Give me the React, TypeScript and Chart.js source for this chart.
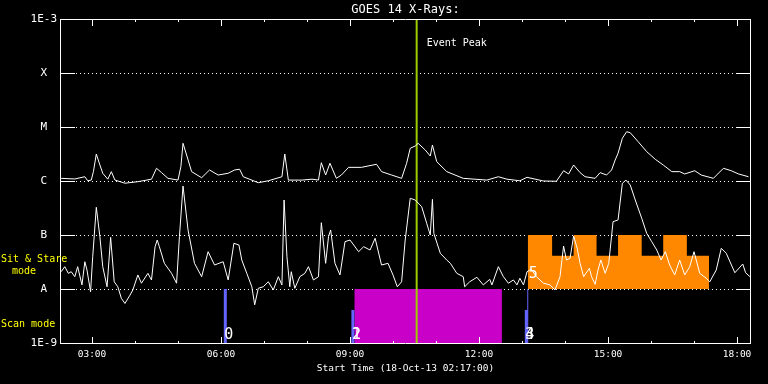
import React, { useEffect, useRef } from 'react';
import Chart from 'chart.js/auto';

const FONT = '"DejaVu Sans Mono", monospace';

// Times: minutes after 00:00 UT on 18-Oct-13
const longTimes = [
  137, 156, 170, 174, 179, 182, 186, 191, 195, 202,
  207, 212, 226, 244, 263, 270, 277, 286, 300, 304,
  307, 312, 319, 333, 344, 356, 370, 379, 386, 391,
  412, 426, 445, 449, 454, 473, 487, 496, 500, 506,
  512, 521, 528, 538, 556, 577, 584, 598, 612, 619,
  624, 631, 635, 645, 652, 655, 661, 675, 698, 731,
  747, 759, 777, 787, 810, 828, 838, 845, 852, 861,
  868, 882, 889, 898, 905, 910, 914, 920, 926, 931,
  942, 954, 966, 977, 989, 1000, 1007, 1021, 1030, 1047,
  1061, 1072, 1082, 1096,
];
// 1-8 A channel flux, W/m^2
const longFlux = [
  1.12e-6, 1.09e-6, 1.2e-6, 1.01e-6, 1.04e-6, 1.49e-6, 3.16e-6, 1.98e-6, 1.39e-6, 1.08e-6,
  1.49e-6, 1.04e-6, 0.91e-6, 0.97e-6, 1.08e-6, 1.72e-6, 1.43e-6, 1.12e-6, 1.04e-6, 1.84e-6,
  4.99e-6, 3.03e-6, 1.49e-6, 1.15e-6, 1.6e-6, 1.29e-6, 1.39e-6, 1.6e-6, 1.65e-6, 1.2e-6,
  0.93e-6, 1.01e-6, 1.2e-6, 3.16e-6, 1.04e-6, 1.04e-6, 1.08e-6, 1.04e-6, 2.18e-6, 1.29e-6,
  2.13e-6, 1.12e-6, 1.29e-6, 1.79e-6, 1.79e-6, 2.04e-6, 1.49e-6, 1.29e-6, 1.12e-6, 2.13e-6,
  4.03e-6, 4.45e-6, 4.99e-6, 3.75e-6, 2.9e-6, 4.64e-6, 2.28e-6, 1.49e-6, 1.12e-6, 1.04e-6,
  1.2e-6, 1.08e-6, 1.01e-6, 1.17e-6, 1.0e-6, 0.99e-6, 1.55e-6, 1.35e-6, 1.98e-6, 1.43e-6,
  1.2e-6, 1.12e-6, 1.43e-6, 1.29e-6, 1.6e-6, 2.45e-6, 3.26e-6, 6.18e-6, 8.18e-6, 7.84e-6,
  5.35e-6, 3.49e-6, 2.52e-6, 1.98e-6, 1.49e-6, 1.49e-6, 1.35e-6, 1.55e-6, 1.29e-6, 1.12e-6,
  1.72e-6, 1.55e-6, 1.35e-6, 1.2e-6,
];

const shortTimes = [
  137, 142, 147, 151, 156, 160, 166, 170, 173, 178,
  181, 186, 191, 195, 201, 206, 211, 216, 221, 226,
  233, 237, 244, 249, 258, 263, 268, 271, 274, 281,
  291, 298, 302, 307, 314, 323, 333, 342, 351, 363,
  370, 378, 385, 389, 396, 403, 407, 412, 419, 426,
  433, 440, 445, 448, 452, 456, 458, 463, 470, 477,
  482, 489, 496, 500, 506, 510, 513, 519, 526, 533,
  540, 552, 559, 568, 575, 584, 593, 600, 606, 612,
  617, 624, 631, 640, 647, 652, 655, 657, 666, 675,
  680, 689, 698, 700, 707, 717, 726, 735, 738, 747,
  754, 761, 768, 773, 777, 782, 787, 793, 800, 810,
  819, 826, 833, 838, 842, 847, 852, 857, 861, 866,
  874, 877, 882, 886, 890, 896, 901, 907, 914, 920,
  925, 931, 938, 947, 954, 961, 968, 974, 980, 986,
  993, 1000, 1007, 1014, 1020, 1028, 1037, 1042, 1051, 1058,
  1065, 1077, 1088, 1092, 1098,
];
// 0.5-4 A channel flux, W/m^2
const shortFlux = [
  2.09e-8, 2.59e-8, 1.95e-8, 2.09e-8, 1.69e-8, 2.59e-8, 1.19e-8, 3.2e-8, 2.25e-8, 0.89e-8,
  3.96e-8, 3.26e-7, 9.3e-8, 2.59e-8, 1.1e-8, 9.06e-8, 1.36e-8, 1.1e-8, 0.67e-8, 0.54e-8,
  0.77e-8, 0.96e-8, 1.82e-8, 1.28e-8, 1.95e-8, 1.47e-8, 6.07e-8, 8.07e-8, 6.07e-8, 2.99e-8,
  1.95e-8, 1.28e-8, 9.3e-8, 8.07e-7, 1.24e-7, 2.99e-8, 1.69e-8, 4.91e-8, 2.78e-8, 3.2e-8,
  1.47e-8, 7.02e-8, 6.53e-8, 3.44e-8, 1.95e-8, 1.1e-8, 0.51e-8, 1.03e-8, 1.1e-8, 1.36e-8,
  0.96e-8, 1.69e-8, 1.19e-8, 4.45e-7, 3.96e-8, 1.1e-8, 2.09e-8, 1.03e-8, 1.69e-8, 1.95e-8,
  2.59e-8, 1.47e-8, 1.69e-8, 1.69e-7, 2.99e-8, 9.3e-8, 1.24e-7, 2.99e-8, 1.82e-8, 7.52e-8,
  8.07e-8, 4.91e-8, 6.07e-8, 5.27e-8, 8.69e-8, 2.78e-8, 2.99e-8, 1.82e-8, 1.1e-8, 1.36e-8,
  8.07e-8, 4.78e-7, 4.45e-7, 3.34e-7, 1.65e-7, 1.0e-7, 4.58e-7, 1.07e-7, 4.58e-8, 3.44e-8,
  2.99e-8, 1.95e-8, 1.69e-8, 1.1e-8, 1.36e-8, 1.65e-8, 1.19e-8, 1.51e-8, 1.19e-8, 2.59e-8,
  1.69e-8, 1.28e-8, 1.47e-8, 1.19e-8, 1.58e-8, 1.19e-8, 2.09e-8, 2.32e-8, 1.69e-8, 1.28e-8,
  1.19e-8, 0.96e-8, 1.69e-8, 6.25e-8, 3.44e-8, 3.7e-8, 9.58e-8, 5.67e-8, 2.99e-8, 1.69e-8,
  2.42e-8, 1.69e-8, 1.22e-8, 2.25e-8, 3.44e-8, 1.95e-8, 2.99e-8, 1.76e-7, 1.9e-7, 9.06e-7,
  1.04e-6, 8.43e-7, 4.45e-7, 2.04e-7, 1.07e-7, 7.52e-8, 5.27e-8, 3.44e-8, 4.91e-8, 2.78e-8,
  1.82e-8, 3.44e-8, 1.82e-8, 2.59e-8, 4.91e-8, 1.95e-8, 1.58e-8, 1.36e-8, 2.25e-8, 5.67e-8,
  4.58e-8, 2.0e-8, 2.9e-8, 2.0e-8, 1.69e-8,
];

const xMin = 135.35;
const xMax = 1099.5;
const xTickValues = [180, 360, 540, 720, 900, 1080];
const xTickLabels = ['03:00', '06:00', '09:00', '12:00', '15:00', '18:00'];
const xMinorTickValues = [240, 300, 420, 480, 600, 660, 780, 840, 960, 1020];

const yTickValues = [1e-9, 1e-8, 1e-7, 1e-6, 1e-5, 1e-4, 1e-3];
const yTickLabels = ['1E-9', 'A', 'B', 'C', 'M', 'X', '1E-3'];

const eventPeakTime = 633;
const eventPeakLabel = 'Event Peak';

// Scan-mode observations
const scanTimes = [366, 544, 544, 786, 786];
const scanTops = [1e-8, 4.1e-9, 4.1e-9, 4.1e-9, 4.1e-9];
const scanLabels = ['0', '1', '2', '3', '4'];
const scanLabelLevels = [1.17e-9, 1.17e-9, 1.17e-9, 1.17e-9, 1.17e-9];

// Sit & stare observation
const stareStartTimes = [788];
const stareStartTops = [1e-8];
const stareLabels = ['5'];
const stareLabelLevels = [1.6e-8];

// Scan-mode coverage block
const scanModeTimes = [546, 752];

// Sit & stare coverage steps
const stareEdges = [788, 822, 852, 884, 914, 947, 977, 1010, 1041];
const stareLevels = [1e-7, 4.14e-8, 1e-7, 4.14e-8, 1e-7, 4.14e-8, 1e-7, 4.14e-8, 4.14e-8];

const decor = {
  id: 'decor',
  beforeDatasetsDraw(chart: any) {
    const { ctx, chartArea: a, scales } = chart;
    const y = scales.y;
    ctx.save();
    ctx.strokeStyle = '#ffffff';
    ctx.lineWidth = 1;
    ctx.setLineDash([1, 3]);
    y.ticks.forEach((t: any, i: number) => {
      if (i === 0 || i === y.ticks.length - 1) return;
      const py = Math.round(y.getPixelForValue(t.value)) + 0.5;
      ctx.beginPath();
      ctx.moveTo(a.left, py);
      ctx.lineTo(a.right, py);
      ctx.stroke();
    });
    ctx.restore();
  },
  afterDatasetsDraw(chart: any) {
    const { ctx, chartArea: a, scales } = chart;
    const x = scales.x;
    const y = scales.y;
    ctx.save();
    ctx.strokeStyle = '#ffffff';
    ctx.lineWidth = 1;
    ctx.setLineDash([]);
    // frame
    ctx.beginPath();
    ctx.moveTo(a.left + 0.5, a.top + 0.5);
    ctx.lineTo(a.right - 0.5, a.top + 0.5);
    ctx.lineTo(a.right - 0.5, a.bottom + 0.5);
    ctx.lineTo(a.left + 0.5, a.bottom + 0.5);
    ctx.closePath();
    ctx.stroke();
    // y ticks (inward, both sides)
    y.ticks.forEach((t: any) => {
      const py = Math.round(y.getPixelForValue(t.value)) + 0.5;
      ctx.beginPath();
      ctx.moveTo(a.left, py);
      ctx.lineTo(a.left + 15, py);
      ctx.moveTo(a.right - 15, py);
      ctx.lineTo(a.right, py);
      ctx.stroke();
    });
    // x ticks (inward, top and bottom)
    const xt = (v: number, len: number) => {
      const px = Math.round(x.getPixelForValue(v)) + 0.5;
      ctx.beginPath();
      ctx.moveTo(px, a.top);
      ctx.lineTo(px, a.top + len);
      ctx.moveTo(px, a.bottom + 1);
      ctx.lineTo(px, a.bottom + 1 - len);
      ctx.stroke();
    };
    x.ticks.forEach((t: any) => xt(t.value, 7));
    xMinorTickValues.forEach((v) => xt(v, 3));

    // event peak label
    ctx.fillStyle = '#ffffff';
    ctx.font = `10px ${FONT}`;
    ctx.textAlign = 'left';
    ctx.textBaseline = 'middle';
    ctx.fillText(eventPeakLabel, x.getPixelForValue(eventPeakTime) + 10, a.top + 24);

    // scan number labels
    ctx.font = `15px ${FONT}`;
    ctx.textBaseline = 'alphabetic';
    scanTimes.forEach((t, i) => {
      ctx.fillText(scanLabels[i], x.getPixelForValue(t) - 1, y.getPixelForValue(scanLabelLevels[i]));
    });
    stareStartTimes.forEach((t, i) => {
      ctx.fillText(stareLabels[i], x.getPixelForValue(t) + 1, y.getPixelForValue(stareLabelLevels[i]));
    });

    // mode labels
    ctx.fillStyle = '#ffff00';
    ctx.font = `10px ${FONT}`;
    ctx.textBaseline = 'middle';
    ctx.fillText('Sit & Stare', 1, 259);
    ctx.fillText('mode', 12, 271);
    ctx.fillText('Scan mode', 1, 324);
    ctx.restore();
  },
};

export default function App() {
  const ref = useRef<HTMLCanvasElement | null>(null);

  useEffect(() => {
    if (!ref.current) return;
    const vbar = (times: number[], tops: number[]) =>
      times.flatMap((t, i) => [
        { x: t, y: 1e-9 },
        { x: t, y: tops[i] },
        { x: t, y: null },
      ]);
    const chart = new Chart(ref.current, {
      type: 'line',
      data: {
        datasets: [
          {
            label: 'long',
            data: longTimes.map((t, i) => ({ x: t, y: longFlux[i] })),
            borderColor: '#ffffff',
            borderWidth: 1,
            pointRadius: 0,
            tension: 0,
            fill: false,
          },
          {
            label: 'short',
            data: shortTimes.map((t, i) => ({ x: t, y: shortFlux[i] })),
            borderColor: '#ffffff',
            borderWidth: 1,
            pointRadius: 0,
            tension: 0,
            fill: false,
          },
          {
            label: 'event',
            data: [
              { x: eventPeakTime, y: 1e-9 },
              { x: eventPeakTime, y: 1e-3 },
            ],
            borderColor: '#9ccc00',
            borderWidth: 2,
            pointRadius: 0,
            fill: false,
          },
          {
            label: 'stareStart',
            data: vbar(stareStartTimes, stareStartTops) as any,
            borderColor: '#6464ff',
            borderWidth: 1,
            pointRadius: 0,
            spanGaps: false,
            fill: false,
          },
          {
            label: 'scans',
            data: vbar(scanTimes, scanTops) as any,
            borderColor: '#6464ff',
            borderWidth: 3,
            pointRadius: 0,
            spanGaps: false,
            fill: false,
          },
          {
            label: 'stare',
            data: stareEdges.map((t, i) => ({ x: t, y: stareLevels[i] })),
            stepped: 'before',
            borderColor: 'rgba(0,0,0,0)',
            borderWidth: 0,
            backgroundColor: '#ff8800',
            pointRadius: 0,
            fill: { value: 1e-8 },
          },
          {
            label: 'scanMode',
            data: scanModeTimes.map((t) => ({ x: t, y: 1e-8 })),
            borderColor: 'rgba(0,0,0,0)',
            borderWidth: 0,
            backgroundColor: '#c800c8',
            pointRadius: 0,
            fill: { value: 1e-9 },
          },
        ] as any,
      },
      options: {
        responsive: false,
        animation: false,
        devicePixelRatio: 1,
        layout: { padding: { left: 0, right: 17, top: 0, bottom: 0 } },
        plugins: {
          legend: { display: false },
          tooltip: { enabled: false },
          title: {
            display: true,
            text: 'GOES 14 X-Rays:',
            color: '#ffffff',
            font: { family: FONT, size: 12, lineHeight: 1, weight: 'normal' },
            padding: { top: 4, bottom: 3 },
            fullSize: false,
          },
        },
        scales: {
          x: {
            type: 'linear',
            min: xMin,
            max: xMax,
            afterBuildTicks: (s: any) => {
              s.ticks = xTickValues.map((v) => ({ value: v }));
            },
            afterFit: (s: any) => {
              s.height = 41;
            },
            ticks: {
              callback: (_v: any, i: number) => xTickLabels[i],
              color: '#ffffff',
              font: { family: FONT, size: 9.5 },
              padding: 6,
              maxRotation: 0,
              autoSkip: false,
            },
            grid: { display: false, drawTicks: false },
            border: { display: false },
            title: {
              display: true,
              text: 'Start Time (18-Oct-13 02:17:00)',
              color: '#ffffff',
              font: { family: FONT, size: 9.5 },
              padding: { top: 0, bottom: 10 },
            },
          },
          y: {
            type: 'logarithmic',
            min: 1e-9,
            max: 1e-3,
            afterBuildTicks: (s: any) => {
              s.ticks = yTickValues.map((v) => ({ value: v }));
            },
            afterFit: (s: any) => {
              s.width = 60;
            },
            ticks: {
              callback: (_v: any, i: number) => yTickLabels[i],
              color: '#ffffff',
              font: { family: FONT, size: 11 },
              padding: 3,
              crossAlign: 'center',
              autoSkip: false,
            },
            grid: { display: false, drawTicks: false },
            border: { display: false },
          },
        },
      } as any,
      plugins: [decor],
    });
    return () => chart.destroy();
  }, []);

  return (
    <div style={{ position: 'fixed', left: 0, top: 0, width: 768, height: 384, background: '#000000' }}>
      <canvas ref={ref} width={768} height={384} style={{ display: 'block' }} />
    </div>
  );
}
